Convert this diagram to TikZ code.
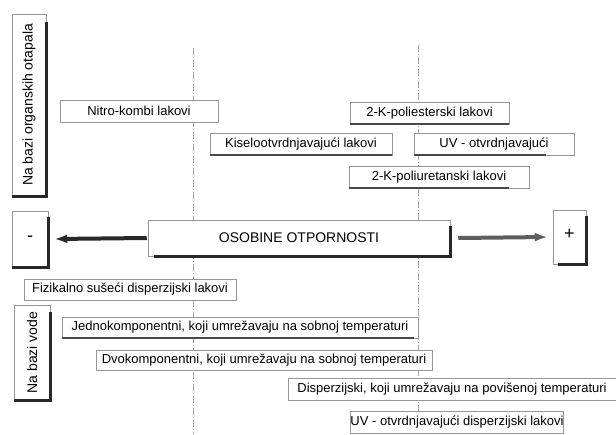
\documentclass[tikz,border=0pt]{standalone}
\usepackage{fontspec}
\usepackage{graphicx}
\setmainfont{Liberation Sans}
\usetikzlibrary{arrows.meta}
\definecolor{rubGray}{RGB}{150,150,150}
\definecolor{sjenaC}{RGB}{40,40,40}
\definecolor{osGray}{RGB}{165,165,165}
\tikzset{
  lak/.style={rectangle, draw=rubGray, line width=0.5pt, fill=white,
    inner sep=0pt, font=\fontsize{13}{15}\selectfont},
  vrsta/.style={lak, font=\fontsize{14}{16}\selectfont},
  glavni/.style={lak, font=\fontsize{14}{16}\selectfont},
  znak/.style={lak, font=\fontsize{18}{20}\selectfont},
  sjena/.style={line width=3.5pt, color=sjenaC},
  tanka/.style={line width=2pt, color=sjenaC!85},
  os/.style={osGray, line width=0.6pt, dash pattern=on 7pt off 2pt on 1pt off 2pt},
  strel/.style={line width=4pt, color=sjenaC, -{Latex[length=13pt,width=9pt]}},
}
\begin{document}
\begin{tikzpicture}[x=1pt,y=-1pt]
\useasboundingbox (0,0) rectangle (616,434);

% osi
\coordinate (osL1) at (193,48);
\coordinate (osL2) at (193,434);
\coordinate (osD1) at (418,45);
\coordinate (osD2) at (418,434);
\draw[os] (osL1) -- (osL2);
\draw[os] (osD1) -- (osD2);

% organska otapala
\node[vrsta, minimum width=34, minimum height=182] (org) at (29,105)
  {\rotatebox{90}{Na bazi organskih otapala}};
\draw[sjena] ([yshift=-8pt]org.north east) |- (org.south west);

\node[lak, minimum width=158, minimum height=22] (nitro) at (139,111) {Nitro-kombi lakovi};
\node[lak, minimum width=159, minimum height=22] (polies) at (429.5,113) {2-K-poliesterski lakovi};
\draw[tanka] (polies.south west) -- (polies.south east);
\node[lak, minimum width=182, minimum height=22] (kiselo) at (301,144) {Kiselootvrdnjavajući lakovi};
\draw[tanka] (kiselo.south west) -- (kiselo.south east);
\node[lak, minimum width=160, minimum height=22] (uvotv) at (494,144) {UV - otvrdnjavajući};
\draw[tanka] (uvotv.south west) -- ([xshift=-28pt]uvotv.south east);
\node[lak, minimum width=180, minimum height=22] (polur) at (439,177) {2-K-poliuretanski lakovi};
\draw[tanka] (polur.south west) -- ([xshift=-20pt]polur.south east);

% osobine
\node[znak, minimum width=36, minimum height=56] (minus) at (30,239) {-};
\draw[sjena] ([yshift=-6pt]minus.north east) |- (minus.south west);
\node[glavni, minimum width=302, minimum height=36] (osob) at (299,238) {OSOBINE OTPORNOSTI};
\draw[sjena] ([yshift=-6pt]osob.north east) |- ([xshift=6pt]osob.south west);
\node[znak, minimum width=33, minimum height=54] (plus) at (569.5,237) {\raisebox{6pt}{+}};
\draw[sjena] ([yshift=-6pt]plus.north east) |- ([xshift=5pt]plus.south west);
\draw[strel] ([xshift=-1pt]osob.west) -- ([xshift=6pt]minus.east);
\draw[strel, color=sjenaC!75] ([xshift=8pt]osob.east) -- ([xshift=-5pt]plus.west);

% na bazi vode
\node[lak, minimum width=212, minimum height=21] (fiz) at (130,289.5) {Fizikalno sušeći disperzijski lakovi};
\node[vrsta, minimum width=36, minimum height=95] (vode) at (32,352.5)
  {\rotatebox{90}{Na bazi vode}};
\draw[sjena] ([yshift=-7pt]vode.north east) |- (vode.south west);
\node[lak, minimum width=356, minimum height=21] (jedno) at (240,327.5)
  {Jednokomponentni, koji umrežavaju na sobnoj temperaturi};
\draw[tanka] (jedno.south west) -- ([xshift=-4pt]jedno.south east);
\node[lak, minimum width=336, minimum height=20] (dvo) at (264,360)
  {Dvokomponentni, koji umrežavaju na sobnoj temperaturi};
\node[lak, minimum width=328, minimum height=22] (disp) at (452,389)
  {Disperzijski, koji umrežavaju na povišenoj temperaturi};
\node[lak, minimum width=198, minimum height=22] (uvdisp) at (457,422)
  {UV - otvrdnjavajući disperzijski lakovi};

\end{tikzpicture}
\end{document}
